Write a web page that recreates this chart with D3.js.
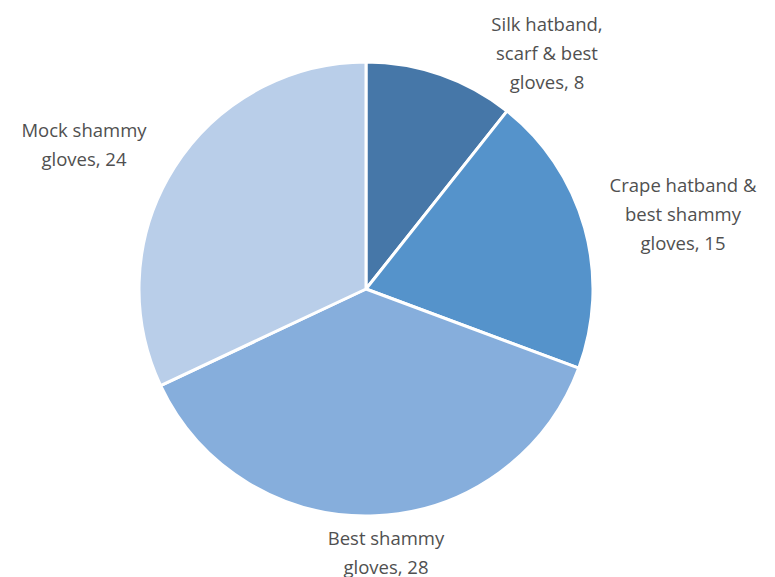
<!DOCTYPE html>
<html>
<head>
<meta charset="utf-8">
<script src="https://cdn.jsdelivr.net/npm/d3@7"></script>
<style>
  body { margin: 0; background: #fff; }
  text { font-family: "Open Sans", "Noto Sans", sans-serif; fill: #505050; }
</style>
</head>
<body>
<svg id="pie"></svg>
<script>
// chart data
const categories = [
    ["Silk hatband,", "scarf & best", "gloves, 8"],
    ["Crape hatband &", "best shammy", "gloves, 15"],
    ["Best shammy", "gloves, 28"],
    ["Mock shammy", "gloves, 24"]
];
const values = [8, 15, 28, 24];
const colors = ["#4677A8", "#5593CB", "#86AEDC", "#B9CEE9"];

var width = 775, height = 577;
var cx = 366, cy = 289, radius = 227;

// label centres (where Excel put them)
const labelPos = [[547, 54], [683, 215], [386, 553], [84, 145]];

const svg = d3.select('#pie')
    .attr("width", width)
    .attr("height", height);

const g = svg.append("g")
    .attr("transform", `translate(${cx},${cy})`);

var pie = d3.pie().sort(null).value(function (d) { return d; });
var arc = d3.arc().innerRadius(0).outerRadius(radius);

g.selectAll(".slice")
    .data(pie(values))
    .enter().append("path")
    .attr("class", "slice")
    .attr("d", arc)
    .attr("fill", function (d, i) { return colors[i]; })
    .attr("stroke", "#fff")
    .attr("stroke-width", 3)
    .attr("stroke-linejoin", "round");

// data labels
var lineH = 29;
categories.forEach(function (lines, i) {
    var t = svg.append("text")
        .attr("text-anchor", "middle")
        .attr("font-size", "18.5px");
    var y0 = labelPos[i][1] - (lines.length - 1) * lineH / 2 + 6;
    lines.forEach(function (l, j) {
        t.append("tspan")
            .attr("x", labelPos[i][0])
            .attr("y", y0 + j * lineH)
            .text(l);
    });
});
</script>
</body>
</html>
